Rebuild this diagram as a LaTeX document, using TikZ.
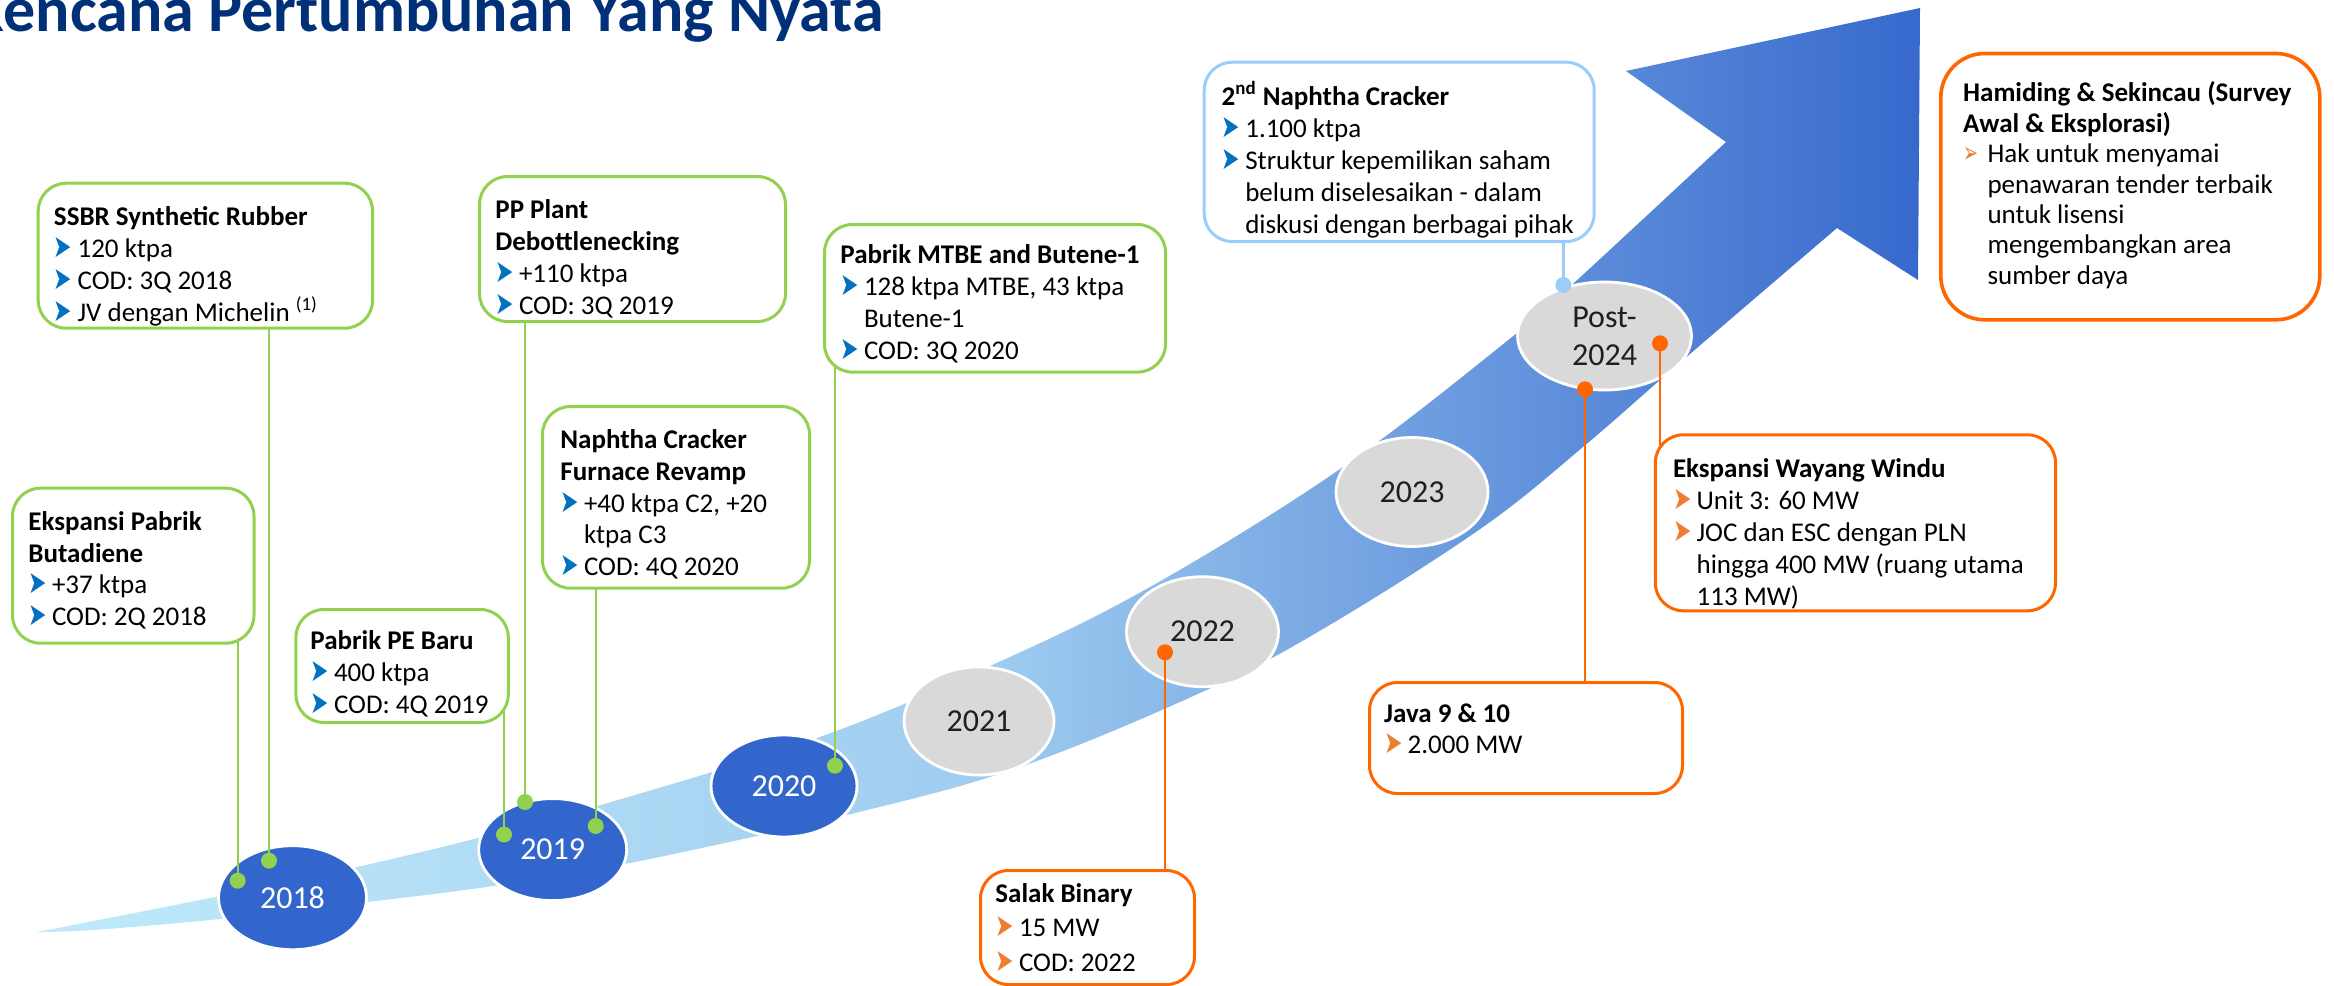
\documentclass[tikz,border=0pt]{standalone}
\usepackage{fontspec}
\usepackage{graphicx}
\setmainfont{Carlito}
\newfontfamily\djv{DejaVu Sans}
\usetikzlibrary{shapes.geometric}
\definecolor{titleblue}{RGB}{0,48,120}
\definecolor{gbord}{RGB}{146,208,80}
\definecolor{obord}{RGB}{255,102,0}
\definecolor{lbord}{RGB}{155,205,250}
\definecolor{bblue}{RGB}{0,112,192}
\definecolor{borange}{RGB}{237,125,49}
\definecolor{yblue}{RGB}{51,102,204}
\definecolor{ygrey}{RGB}{217,217,217}
\definecolor{bandL}{RGB}{192,234,250}
\definecolor{bandM}{RGB}{160,205,240}
\definecolor{bandR}{RGB}{55,105,205}
\newcommand\bulB{\makebox[11.8pt][l]{\textcolor{bblue}{\resizebox{9.2pt}{10pt}{\djv ➤}}}}
\newcommand\bulO{\makebox[11.8pt][l]{\textcolor{borange}{\resizebox{9.2pt}{10pt}{\djv ➤}}}}
\newcommand\bulH{\makebox[12.2pt][l]{\textcolor{borange}{\resizebox{7.5pt}{7.5pt}{\djv ➢}}}}
\newcommand\indt{\hspace*{11.8pt}}
\newcommand\indH{\hspace*{12.2pt}}
\newcommand\fstrut{\rule{0pt}{12pt}}
\tikzset{
  boxbase/.style={draw, rounded corners=14pt, fill=white, line width=1.5pt, anchor=north west, inner sep=0pt},
  gbox/.style={boxbase, draw=gbord},
  obox/.style={boxbase, draw=obord},
  lbox/.style={boxbase, draw=lbord},
  txt/.style={anchor=north west, inner sep=0pt, align=left, font={\fontsize{13.5}{#1}\selectfont}},
  txt/.default=15.85,
  yr/.style={ellipse, draw=white, line width=1.4pt, inner sep=0pt, align=center, font={\fontsize{16}{19}\selectfont}},
  yb/.style={yr, fill=yblue, text=white},
  yg/.style={yr, fill=ygrey, text=black!88},
  gdot/.style={circle, fill=gbord, inner sep=0pt, minimum size=8pt},
  odot/.style={circle, fill=obord, inner sep=0pt, minimum size=8pt},
  ldot/.style={circle, fill=lbord, inner sep=0pt, minimum size=8pt},
  gline/.style={draw=gbord, line width=1.2pt},
  oline/.style={draw=obord, line width=1.2pt},
  lline/.style={draw=lbord, line width=1.2pt}
}
\begin{document}
\begin{tikzpicture}[x=0.5pt,y=-0.5pt]
\useasboundingbox (0,0) rectangle (2334,985);
\clip (0,0) rectangle (2334,985);
% title
\node[anchor=base west, inner sep=0pt, text=titleblue, font={\fontsize{32}{38}\selectfont\bfseries}] (title) at (-32,32) {Rencana Pertumbuhan Yang Nyata};
% band arrow
\path[left color=bandL, right color=bandR, middle color=bandM]
  plot[smooth, tension=0.6] coordinates {(37,932) (215,897) (357,867) (478,838) (601,805) (817,738) (990,666) (1150,587) (1343,467) (1517,333) (1575,282) (1726,142)}
  -- (1626,71) -- (1920,8) -- (1918,280)
  -- plot[smooth, tension=0.6] coordinates {(1837,228) (1683,360) (1583,447) (1483,527) (1333,623) (1213,687) (1023,766) (851,814) (630,863) (493,886) (367,902) (220,919) (93,930) (37,932)}
  -- cycle;
% year ellipses
\node[yb, minimum width=74pt, minimum height=52pt] (y18) at (292.5,897.7) {2018};
\node[yb, minimum width=74pt, minimum height=51pt] (y19) at (552.7,849.6) {2019};
\node[yb, minimum width=73pt, minimum height=51pt] (y20) at (784,786) {2020};
\node[yg, minimum width=75pt, minimum height=54pt] (y21) at (979,721) {2021};
\node[yg, minimum width=76pt, minimum height=55pt] (y22) at (1202.5,631.7) {2022};
\node[yg, minimum width=76pt, minimum height=54.5pt] (y23) at (1412,492) {2023};
\node[yg, minimum width=87pt, minimum height=54pt] (y24) at (1604.5,336) {Post-\\2024};
% dot anchors
\coordinate (dssbr) at (269,860.7);
\coordinate (dbuta) at (237.7,880.7);
\coordinate (dpp) at (525,802);
\coordinate (dnap) at (595.7,826);
\coordinate (dpe) at (504,834.5);
\coordinate (dmtbe) at (835,765.7);
\coordinate (dsalak) at (1165,652.3);
\coordinate (djava) at (1585,389.3);
\coordinate (dway) at (1660,343.3);
\coordinate (dnapb) at (1563.3,285);
% box frames (invisible, used as connector targets)
\node[gbox, draw=none, fill=none, minimum width=167.2pt, minimum height=72.5pt] (ssbr) at (36.7,181.7) {};
\node[gbox, draw=none, fill=none, minimum width=120.75pt, minimum height=77.5pt] (buta) at (11,486.7) {};
\node[gbox, draw=none, fill=none, minimum width=153pt, minimum height=72.5pt] (pp) at (478,175) {};
\node[gbox, draw=none, fill=none, minimum width=133.5pt, minimum height=90.85pt] (nap) at (541,405) {};
\node[gbox, draw=none, fill=none, minimum width=106.2pt, minimum height=56.5pt] (pe) at (294.4,608) {};
\node[gbox, draw=none, fill=none, minimum width=170.5pt, minimum height=73.8pt] (mtbe) at (823,223) {};
\node[lbox, draw=none, fill=none, minimum width=195pt, minimum height=89.65pt] (napb) at (1202.7,60.7) {};
\node[obox, draw=none, fill=none, minimum width=200.1pt, minimum height=88pt] (way) at (1653.8,433.3) {};
\node[obox, draw=none, fill=none, minimum width=156.5pt, minimum height=55.5pt] (java) at (1368,681) {};
\node[obox, draw=none, fill=none, minimum width=107pt, minimum height=57pt] (salak) at (979,869) {};
% connectors
\draw[gline] (dssbr) -- (dssbr |- ssbr.center);
\draw[gline] (dbuta) -- (dbuta |- buta.center);
\draw[gline] (dpp) -- (dpp |- pp.center);
\draw[gline] (dnap) -- (dnap |- nap.center);
\draw[gline] (dpe) -- (dpe |- pe.center);
\draw[gline] (dmtbe) -- (dmtbe |- mtbe.center);
\draw[oline] (dsalak) -- (dsalak |- salak.center);
\draw[oline] (djava) -- (djava |- java.center);
\draw[oline] (dway) -- (dway |- way.center);
\draw[lline] (dnapb) -- (dnapb |- napb.center);
% visible boxes
\node[gbox, minimum width=167.2pt, minimum height=72.5pt] (ssbrF) at (36.7,181.7) {};
\node[gbox, minimum width=120.75pt, minimum height=77.5pt] (butaF) at (11,486.7) {};
\node[gbox, minimum width=153pt, minimum height=72.5pt] (ppF) at (478,175) {};
\node[gbox, minimum width=133.5pt, minimum height=90.85pt] (napF) at (541,405) {};
\node[gbox, minimum width=106.2pt, minimum height=56.5pt] (peF) at (294.4,608) {};
\node[gbox, minimum width=170.5pt, minimum height=73.8pt] (mtbeF) at (823,223) {};
\node[lbox, minimum width=195pt, minimum height=89.65pt] (napbF) at (1202.7,60.7) {};
\node[obox, minimum width=200.1pt, minimum height=88pt] (wayF) at (1653.8,433.3) {};
\node[obox, minimum width=156.5pt, minimum height=55.5pt] (javaF) at (1368,681) {};
\node[obox, minimum width=107pt, minimum height=57pt] (salakF) at (979,869) {};
\node[obox, rounded corners=22pt, line width=1.8pt, minimum width=189.5pt, minimum height=133.15pt] (hamiF) at (1939,51.7) {};
% dots
\node[gdot] (gd1) at (dssbr) {};
\node[gdot] (gd2) at (dbuta) {};
\node[gdot] (gd3) at (dpp) {};
\node[gdot] (gd4) at (dnap) {};
\node[gdot] (gd5) at (dpe) {};
\node[gdot] (gd6) at (dmtbe) {};
\node[odot] (od1) at (dsalak) {};
\node[odot] (od2) at (djava) {};
\node[odot] (od3) at (dway) {};
\node[ldot] (ld1) at (dnapb) {};
% texts
\node[txt=15.95] (tssbr) at (53.6,201) {\fstrut\textbf{SSBR Synthetic Rubber}\\ \bulB 120 ktpa\\ \bulB COD: 3Q 2018\\ \bulB JV dengan Michelin \textsuperscript{(1)}};
\node[txt=15.83] (tbuta) at (28,506) {\fstrut\textbf{Ekspansi Pabrik}\\ \textbf{Butadiene}\\ \bulB +37 ktpa\\ \bulB COD: 2Q 2018};
\node[txt=15.95] (tpp) at (495,194.3) {\fstrut\textbf{PP Plant}\\ \textbf{Debottlenecking}\\ \bulB +110 ktpa\\ \bulB COD: 3Q 2019};
\node[txt=15.85] (tnap) at (560,424.3) {\fstrut\textbf{Naphtha Cracker}\\ \textbf{Furnace Revamp}\\ \bulB +40 ktpa C2, +20\\ \indt ktpa C3\\ \bulB COD: 4Q 2020};
\node[txt=15.93] (tpe) at (310,625) {\fstrut\textbf{Pabrik PE Baru}\\ \bulB 400 ktpa\\ \bulB COD: 4Q 2019};
\node[txt=15.85] (tmtbe) at (840,239.5) {\fstrut\textbf{Pabrik MTBE and Butene-1}\\ \bulB 128 ktpa MTBE, 43 ktpa\\ \indt Butene-1\\ \bulB COD: 3Q 2020};
\node[txt=16.04] (tnapb) at (1221.3,81) {\fstrut\textbf{2\textsuperscript{nd} Naphtha Cracker}\\ \bulB 1.100 ktpa\\ \bulB Struktur kepemilikan saham\\ \indt belum diselesaikan - dalam\\ \indt diskusi dengan berbagai pihak};
\node[txt=16.04] (tway) at (1672.6,452.7) {\fstrut\textbf{Ekspansi Wayang Windu}\\ \bulO Unit 3: 60 MW\\ \bulO JOC dan ESC dengan PLN\\ \indt hingga 400 MW (ruang utama\\ \indt 113 MW)};
\node[txt=15.8] (tjava) at (1383.7,697.7) {\fstrut\textbf{Java 9 \& 10}\\ \bulO 2.000 MW};
\node[txt=17.25] (tsalak) at (995,877.7) {\fstrut\textbf{Salak Binary}\\ \bulO 15 MW\\ \bulO COD: 2022};
\node[txt=15.2] (thami) at (1962.7,77.5) {\fstrut\textbf{Hamiding \& Sekincau (Survey}\\ \textbf{Awal \& Eksplorasi)}\\ \bulH Hak untuk menyamai\\ \indH penawaran tender terbaik\\ \indH untuk lisensi\\ \indH mengembangkan area\\ \indH sumber daya};
\end{tikzpicture}
\end{document}
